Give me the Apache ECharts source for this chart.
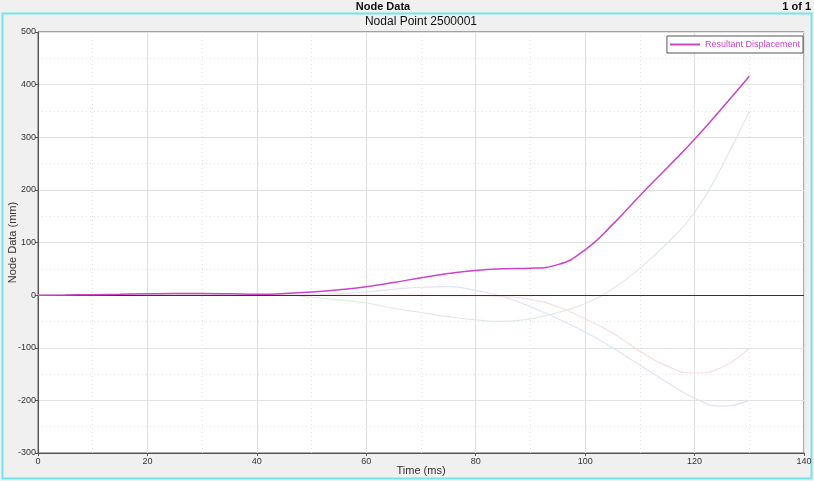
<!DOCTYPE html>
<html>
<head>
<meta charset="utf-8">
<script src="https://cdn.jsdelivr.net/npm/echarts@6/dist/echarts.min.js"></script>
<style>
html,body{margin:0;padding:0;background:#f0f0f0;}
#chart{width:814px;height:481px;}
</style>
</head>
<body>
<div id="chart"></div>
<script>
// ---- data ----
var timeMs = [0,5,10,15,20,25,30,35,40,45,50,55,60,65,70,75,80,85,90,95,100,105,110,115,120,125,130];
var resultant = [0,0.3,0.8,1.5,2.5,3,3,2.5,1.5,3,6,10,16,24,33,41,47,50,51,58,86,134,189,242,296,355,416];
var compX = [0,0,0,0,0,0,0,0,0,0,-4,-9,-15,-25,-33,-41,-47,-50,-45,-33,-16,12,51,99,157,245,350];
var compY = [0,0,0,0,0,0,0,0,0,0,1,3,6,11,15,16,9,-3,-22,-45,-70,-100,-133,-166,-196,-211,-200];
var compZ = [0,0,0,0,0,0,0,0,0,0,0,0,0,0,0,-1,-1,-3,-8,-22,-45,-72,-106,-135,-148,-137,-101];
var xTicks = {min:0, max:140, interval:20};
var yTicks = {min:-300, max:500, interval:100};
var seriesName = 'Resultant Displacement';

function pairs(vals){ return timeMs.map(function(t,i){ return [t, vals[i]]; }); }

var chart = echarts.init(document.getElementById('chart'), null, {renderer:'canvas'});
var FONT = 'Liberation Sans, Arial, sans-serif';
var option = {
  backgroundColor:'#f0f0f0',
  animation:false,
  graphic:[
    {type:'rect', z:-10, shape:{x:2.5,y:13.5,width:809,height:465}, style:{fill:'#f0f0f0', stroke:'#72e6ee', lineWidth:2}},
    {type:'text', x:383, y:1, style:{text:'Node Data', font:'bold 11px '+FONT, fill:'#111', textAlign:'center'}},
    {type:'text', x:811, y:1, style:{text:'1 of 1', font:'bold 11px '+FONT, fill:'#111', textAlign:'right'}},
    {type:'text', x:421, y:16, style:{text:'Nodal Point 2500001', font:'12px '+FONT, fill:'#111', textAlign:'center'}}
  ],
  grid:{left:38, right:10, top:32, bottom:28, containLabel:false, outerBoundsMode:'none',
        show:true, backgroundColor:'#ffffff', borderColor:'#555', borderWidth:1},
  legend:{
    data:[seriesName], right:11, top:36, orient:'vertical',
    icon:'rect', itemWidth:30, itemHeight:2, itemGap:4,
    backgroundColor:'#fff', borderColor:'#555', borderWidth:1, borderRadius:0, padding:[4,3,4,3],
    textStyle:{color:'#cc44cc', fontSize:9, fontFamily:FONT}
  },
  xAxis:{
    type:'value', min:xTicks.min, max:xTicks.max, interval:xTicks.interval,
    name:'Time (ms)', nameLocation:'middle', nameGap:12, nameMoveOverlap:false,
    nameTextStyle:{color:'#333', fontSize:11, fontFamily:FONT},
    axisLine:{show:true, onZero:false, lineStyle:{color:'#555'}},
    axisTick:{show:true, length:3, lineStyle:{color:'#555'}},
    axisLabel:{color:'#333', fontSize:9, fontFamily:FONT, margin:4},
    splitLine:{show:true, lineStyle:{color:'#e2e2e2', width:1.2}},
    minorTick:{show:false, splitNumber:2},
    minorSplitLine:{show:true, lineStyle:{color:'#e4e4e4', type:[1,3]}}
  },
  yAxis:{
    type:'value', min:yTicks.min, max:yTicks.max, interval:yTicks.interval,
    name:'Node Data (mm)', nameLocation:'middle', nameGap:20, nameMoveOverlap:false,
    nameTextStyle:{color:'#333', fontSize:11, fontFamily:FONT},
    axisLine:{show:true, lineStyle:{color:'#555'}},
    axisTick:{show:true, length:3, lineStyle:{color:'#555'}},
    axisLabel:{color:'#333', fontSize:9, fontFamily:FONT, margin:2},
    splitLine:{show:true, lineStyle:{color:'#e2e2e2', width:1.2}},
    minorTick:{show:false, splitNumber:2},
    minorSplitLine:{show:true, lineStyle:{color:'#e4e4e4', type:[1,3]}}
  },
  series:[
    {name:'X', type:'line', data:pairs(compX), smooth:0.5, showSymbol:false, silent:true, lineStyle:{color:'#e0ebe0', width:1.2}, z:1},
    {name:'Y', type:'line', data:pairs(compY), smooth:0.5, showSymbol:false, silent:true, lineStyle:{color:'#e0e3f8', width:1.2}, z:1},
    {name:'Z', type:'line', data:pairs(compZ), smooth:0.5, showSymbol:false, silent:true, lineStyle:{color:'#f8dfdf', width:1.2}, z:1},
    {name:seriesName, type:'line', data:pairs(resultant), smooth:0.5, showSymbol:false, lineStyle:{color:'#cc44cc', width:1.5}, itemStyle:{color:'#cc44cc'}, z:3,
     markLine:{silent:true, symbol:'none', label:{show:false}, lineStyle:{color:'#333', width:1, type:'solid'}, data:[{yAxis:0}], z:2}}
  ]
};
chart.setOption(option);
</script>
</body>
</html>
